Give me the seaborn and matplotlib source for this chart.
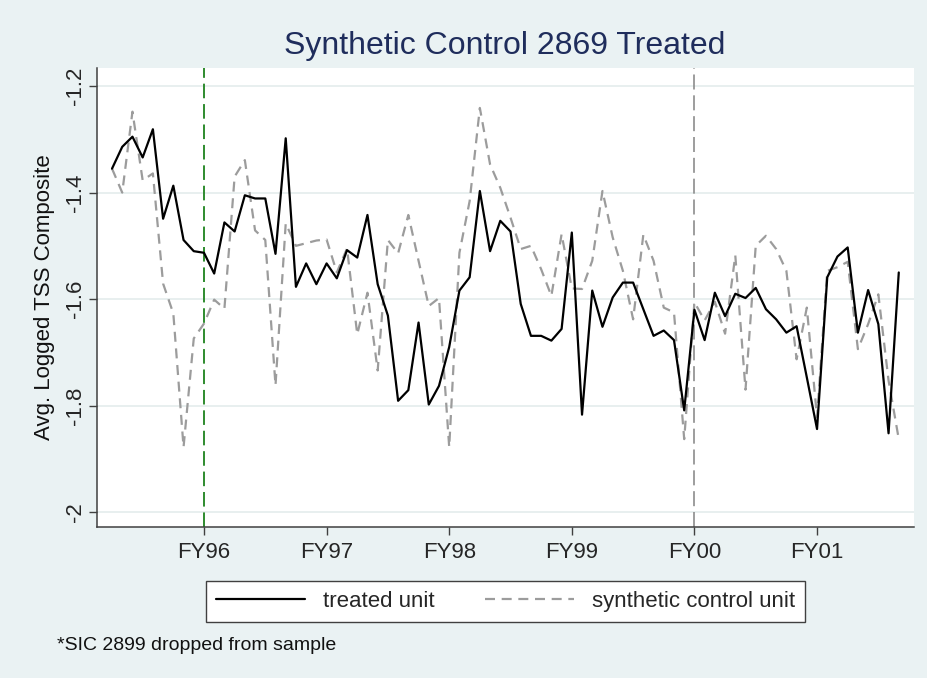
import matplotlib
matplotlib.use("Agg")
import matplotlib.pyplot as plt
import seaborn as sns
import numpy as np
import pandas as pd

# months relative to start of FY96 (tick positions every 12 months)
months = list(range(-9, 69))

treated = [
    -1.355, -1.314, -1.295, -1.334, -1.281, -1.449, -1.387, -1.489, -1.510,
    -1.513, -1.552, -1.456, -1.473, -1.405, -1.411, -1.411, -1.515, -1.298,
    -1.577, -1.533, -1.572, -1.533, -1.561, -1.508, -1.522, -1.442, -1.572,
    -1.631, -1.791, -1.771, -1.644, -1.798, -1.763, -1.690, -1.584, -1.559,
    -1.397, -1.510, -1.453, -1.473, -1.609, -1.669, -1.669, -1.678, -1.656,
    -1.475, -1.817, -1.584, -1.652, -1.597, -1.569, -1.569, -1.619, -1.669,
    -1.659, -1.677, -1.809, -1.620, -1.677, -1.588, -1.632, -1.590, -1.598,
    -1.579, -1.619, -1.638, -1.663, -1.651, -1.747, -1.844, -1.559, -1.520,
    -1.503, -1.663, -1.583, -1.647, -1.852, -1.550,
]

synthetic = [
    -1.355, -1.400, -1.248, -1.377, -1.364, -1.571, -1.627, -1.878, -1.674,
    -1.646, -1.601, -1.618, -1.370, -1.339, -1.471, -1.489, -1.762, -1.458,
    -1.500, -1.495, -1.490, -1.488, -1.550, -1.505, -1.666, -1.588, -1.734,
    -1.489, -1.514, -1.442, -1.528, -1.613, -1.598, -1.878, -1.513, -1.416,
    -1.241, -1.347, -1.391, -1.447, -1.506, -1.500, -1.544, -1.594, -1.478,
    -1.580, -1.581, -1.528, -1.397, -1.484, -1.547, -1.638, -1.479, -1.528,
    -1.616, -1.625, -1.863, -1.606, -1.640, -1.605, -1.665, -1.518, -1.770,
    -1.500, -1.481, -1.506, -1.547, -1.713, -1.616, -1.822, -1.547, -1.540,
    -1.530, -1.694, -1.647, -1.591, -1.753, -1.863,
]

fy_ticks = [0, 12, 24, 36, 48, 60]
fy_labels = ["FY96", "FY97", "FY98", "FY99", "FY00", "FY01"]
y_ticks = [-2.0, -1.8, -1.6, -1.4, -1.2]
y_labels = ["-2", "-1.8", "-1.6", "-1.4", "-1.2"]
treatment_month = 0
later_month = 48

sns.set_theme(style="white")
plt.rcParams["font.family"] = ["Liberation Sans", "DejaVu Sans"]
plt.rcParams["axes.unicode_minus"] = False

BG = "#EAF2F3"
fig = plt.figure(figsize=(9.28, 6.78), dpi=100, facecolor=BG)
ax = fig.add_axes([97 / 928, 1 - 527 / 678, (914 - 97) / 928, (527 - 68) / 678])
ax.set_facecolor("white")

df = pd.DataFrame({"month": months, "treated": treated, "synthetic": synthetic})

for yv in y_ticks:
    ax.axhline(yv, color="#E4ECEC", lw=1.2, zorder=0)

ax.axvline(treatment_month, color="#2E8B2E", lw=1.4, linestyle=(0, (7.5, 3)), zorder=1)
ax.axvline(later_month, color="#8C8C8C", lw=1.2, linestyle=(0, (9, 3.5)), zorder=1)

sns.lineplot(data=df, x="month", y="treated", ax=ax, color="black", lw=1.6,
             label="treated unit", zorder=3)
sns.lineplot(data=df, x="month", y="synthetic", ax=ax, color="#9C9C9C", lw=1.6,
             linestyle=(0, (4.5, 3)), label="synthetic control unit", zorder=2)

ax.set_xlim(-10.47, 69.49)
ax.set_ylim(-2.028, -1.166)
ax.set_xticks(fy_ticks)
ax.set_xticklabels(fy_labels, fontsize=16)
ax.set_yticks(y_ticks)
ax.set_yticklabels(y_labels, fontsize=16, rotation=90, va="center")
ax.tick_params(axis="x", direction="out", length=6, width=1, color="#404040", pad=5, bottom=True)
ax.tick_params(axis="y", direction="out", length=6, width=1, color="#404040", pad=2, left=True)
ax.set_xlabel("")
ax.set_ylabel("")

for side in ["top", "right"]:
    ax.spines[side].set_visible(False)
for side in ["left", "bottom"]:
    ax.spines[side].set_color("#404040")
    ax.spines[side].set_linewidth(1.1)

fig.text(45 / 928, 1 - 297 / 678, "Avg. Logged TSS Composite", rotation=90,
         ha="center", va="center", fontsize=16, color="#111111")
fig.text(505 / 928, 1 - 46 / 678, "Synthetic Control 2869 Treated", ha="center",
         va="center", fontsize=23, color="#1F2D5C")
fig.text(57 / 928, 1 - 646 / 678, "*SIC 2899 dropped from sample", ha="left",
         va="center", fontsize=14, color="#111111")

handles, labels = ax.get_legend_handles_labels()
ax.get_legend().remove()
leg = fig.legend(handles, labels, loc="center", bbox_to_anchor=(505.5 / 928, 1 - 601.5 / 678),
                 ncol=2, fontsize=16, frameon=True, fancybox=False, framealpha=1,
                 edgecolor="#404040", handlelength=4.0, handletextpad=0.8,
                 columnspacing=2.3, borderpad=0.45, borderaxespad=0)
leg.get_frame().set_linewidth(1.0)

fig.savefig("out.png", dpi=100, facecolor=BG)
